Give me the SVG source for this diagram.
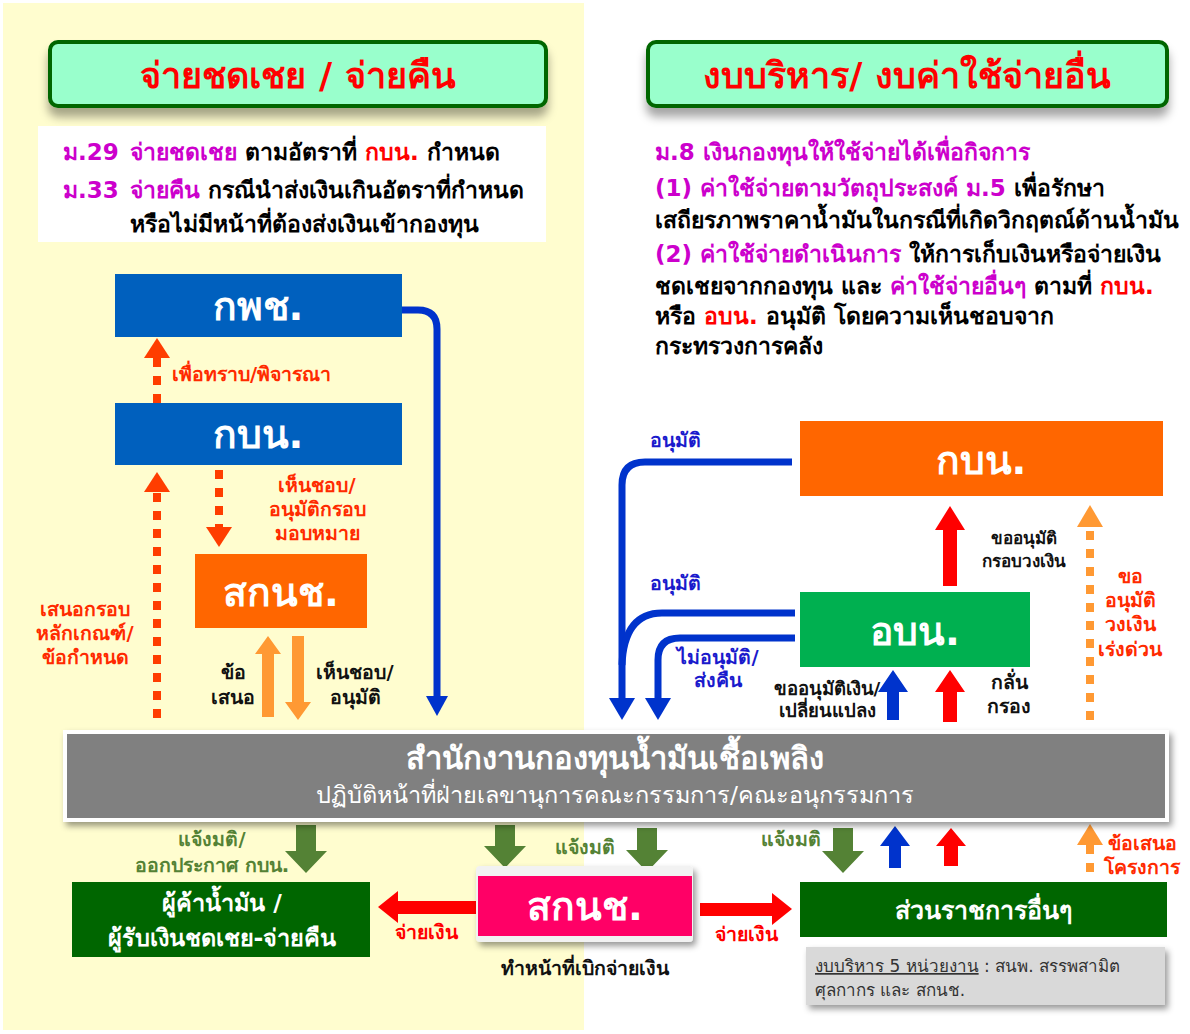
<svg xmlns="http://www.w3.org/2000/svg" width="1190" height="1034" viewBox="0 0 1190 1034">
<defs>
<style>
text{font-family:Tahoma,"DejaVu Sans","Noto Sans",sans-serif;font-weight:bold}
.t32{font-size:36px;fill:#FF0000;text-anchor:middle}
.p{font-size:23px;fill:#000}
.mg{fill:#CC00CC}
.rd{fill:#FF0000}
.box{font-size:39px;fill:#fff;text-anchor:middle}
.lbl{font-size:19.5px;text-anchor:middle}
.rlab{fill:#FF2A00}
.blab{fill:#1A1ACC}
.klab{fill:#111}
.glab{fill:#548235}
.bl{fill:none;stroke:#0033CC;stroke-width:7}
.dr{fill:none;stroke:#FF3D00;stroke-width:8;stroke-dasharray:9 9}
.do{fill:none;stroke:#FF9933;stroke-width:8;stroke-dasharray:9 9}
</style>
<filter id="sh" x="-10%" y="-30%" width="120%" height="180%"><feDropShadow dx="0" dy="9" stdDeviation="5" flood-color="#000" flood-opacity="0.35"/></filter>
<filter id="sh2" x="-10%" y="-20%" width="120%" height="160%"><feDropShadow dx="3" dy="4" stdDeviation="3" flood-color="#000" flood-opacity="0.4"/></filter>
</defs>
<rect width="1190" height="1034" fill="#fff"/>
<rect x="3" y="3" width="581" height="1027" fill="#FFFDCF"/>

<g id="title-left">
<rect x="50" y="42" width="496" height="64" rx="8" fill="#99FFCC" stroke="#006600" stroke-width="4" filter="url(#sh)"/>
<text class="t32" x="298" y="88">จ่ายชดเชย / จ่ายคืน</text>
</g>
<g id="text-left">
<rect x="38" y="126" width="508" height="116" fill="#fff"/>
<text class="p" x="63" y="160"><tspan class="mg">ม.29</tspan><tspan class="mg" x="130">จ่ายชดเชย</tspan> ตามอัตราที่ <tspan class="rd">กบน.</tspan> กำหนด</text>
<text class="p" x="63" y="198"><tspan class="mg">ม.33</tspan><tspan class="mg" x="130">จ่ายคืน</tspan> กรณีนำส่งเงินเกินอัตราที่กำหนด</text>
<text class="p" x="130" y="232">หรือไม่มีหน้าที่ต้องส่งเงินเข้ากองทุน</text>
</g>

<g id="title-right">
<rect x="648" y="42" width="519" height="64" rx="8" fill="#99FFCC" stroke="#006600" stroke-width="4" filter="url(#sh)"/>
<text class="t32" x="907" y="88">งบบริหาร/ งบค่าใช้จ่ายอื่น</text>
</g>
<g id="text-right">
<text class="p mg" x="655" y="160">ม.8 เงินกองทุนให้ใช้จ่ายได้เพื่อกิจการ</text>
<text class="p" x="655" y="196"><tspan class="mg">(1) ค่าใช้จ่ายตามวัตถุประสงค์ ม.5</tspan> เพื่อรักษา</text>
<text class="p" x="655" y="228">เสถียรภาพราคาน้ำมันในกรณีที่เกิดวิกฤตณ์ด้านน้ำมัน</text>
<text class="p" x="655" y="262"><tspan class="mg">(2) ค่าใช้จ่ายดำเนินการ</tspan> ให้การเก็บเงินหรือจ่ายเงิน</text>
<text class="p" x="655" y="294">ชดเชยจากกองทุน และ <tspan class="mg">ค่าใช้จ่ายอื่นๆ</tspan> ตามที่ <tspan class="rd">กบน.</tspan></text>
<text class="p" x="655" y="324">หรือ <tspan class="rd">อบน.</tspan> อนุมัติ โดยความเห็นชอบจาก</text>
<text class="p" x="655" y="354">กระทรวงการคลัง</text>
</g>

<g id="connectors">
<path class="bl" d="M402,310 H418 Q437,310 437,329 V698"/>
<polygon points="426,696 448,696 437,716" fill="#0033CC"/>
<path class="dr" d="M157,403 V358"/>
<polygon points="144,358 170,358 157,338" fill="#FF3D00"/>
<path class="dr" d="M157,718 V492"/>
<polygon points="144,492 170,492 157,472" fill="#FF3D00"/>
<path class="dr" d="M219,470 V527"/>
<polygon points="206,527 232,527 219,547" fill="#FF3D00"/>
<polygon points="268,636 281,654 274,654 274,717 262,717 262,654 255,654" fill="#FF9933"/>
<polygon points="298,720 311,702 304,702 304,636 292,636 292,702 285,702" fill="#FF9933"/>
<path class="bl" d="M792,462 H645 Q622,462 622,485 V700"/>
<polygon points="609,698 635,698 622,720" fill="#0033CC"/>
<path class="bl" d="M795,613 H662 Q624,613 622,665"/>
<path class="bl" d="M795,638 H680 Q658,638 658,660 V700"/>
<polygon points="645,698 671,698 658,720" fill="#0033CC"/>
<polygon points="950,506 965,530 957,530 957,586 943,586 943,530 935,530" fill="#FF0000"/>
<path class="do" d="M1090,720 V527"/>
<polygon points="1077,527 1103,527 1090,505" fill="#FF9933"/>
<polygon points="893,670 908,692 899,692 899,720 887,720 887,692 878,692" fill="#0033CC"/>
<polygon points="950,670 965,692 957,692 957,722 943,722 943,692 935,692" fill="#FF0000"/>
<polygon points="306,873 327,851 316,851 316,825 296,825 296,851 285,851" fill="#548235"/>
<polygon points="505,868 526,846 515,846 515,825 495,825 495,846 484,846" fill="#548235"/>
<polygon points="647,872 668,850 657,850 657,828 637,828 637,850 626,850" fill="#548235"/>
<polygon points="843,873 864,851 853,851 853,828 833,828 833,851 822,851" fill="#548235"/>
<polygon points="895,826 910,846 901,846 901,868 889,868 889,846 880,846" fill="#0033CC"/>
<polygon points="951,828 966,846 958,846 958,866 944,866 944,846 936,846" fill="#FF0000"/>
<path class="do" d="M1090,872 V845"/>
<polygon points="1077,845 1103,845 1090,824" fill="#FF9933"/>
<polygon points="378,907 398,891 398,901 476,901 476,914 398,914 398,923" fill="#FF0000"/>
<polygon points="792,909 772,893 772,903 700,903 700,916 772,916 772,925" fill="#FF0000"/>
</g>

<g id="labels">
<text class="lbl rlab" x="172" y="381" style="text-anchor:start">เพื่อทราบ/พิจารณา</text>
<text class="lbl rlab" x="85" y="616">เสนอกรอบ</text>
<text class="lbl rlab" x="85" y="640">หลักเกณฑ์/</text>
<text class="lbl rlab" x="85" y="664">ข้อกำหนด</text>
<text class="lbl rlab" x="317" y="492">เห็นชอบ/</text>
<text class="lbl rlab" x="317" y="516">อนุมัติกรอบ</text>
<text class="lbl rlab" x="317" y="540">มอบหมาย</text>
<text class="lbl klab" x="233" y="679">ข้อ</text>
<text class="lbl klab" x="233" y="704">เสนอ</text>
<text class="lbl klab" x="355" y="679">เห็นชอบ/</text>
<text class="lbl klab" x="355" y="704">อนุมัติ</text>
<text class="lbl blab" x="675" y="447">อนุมัติ</text>
<text class="lbl blab" x="675" y="590">อนุมัติ</text>
<text class="lbl blab" x="718" y="664">ไม่อนุมัติ/</text>
<text class="lbl blab" x="718" y="687">ส่งคืน</text>
<text class="lbl klab" x="1024" y="544" style="font-size:17px">ขออนุมัติ</text>
<text class="lbl klab" x="1024" y="567" style="font-size:17px">กรอบวงเงิน</text>
<text class="lbl rlab" x="1130" y="583">ขอ</text>
<text class="lbl rlab" x="1130" y="607">อนุมัติ</text>
<text class="lbl rlab" x="1130" y="631">วงเงิน</text>
<text class="lbl rlab" x="1130" y="656">เร่งด่วน</text>
<text class="lbl klab" x="827" y="695" style="font-size:18.5px">ขออนุมัติเงิน/</text>
<text class="lbl klab" x="827" y="717" style="font-size:18.5px">เปลี่ยนแปลง</text>
<text class="lbl klab" x="1009" y="689">กลั่น</text>
<text class="lbl klab" x="1009" y="713">กรอง</text>
<text class="lbl glab" x="212" y="846">แจ้งมติ/</text>
<text class="lbl glab" x="212" y="872">ออกประกาศ กบน.</text>
<text class="lbl glab" x="585" y="854">แจ้งมติ</text>
<text class="lbl glab" x="791" y="846">แจ้งมติ</text>
<text class="lbl rd" x="426" y="939">จ่ายเงิน</text>
<text class="lbl rd" x="746" y="941">จ่ายเงิน</text>
<text class="lbl klab" x="585" y="975">ทำหน้าที่เบิกจ่ายเงิน</text>
<text class="lbl rlab" x="1142" y="850">ข้อเสนอ</text>
<text class="lbl rlab" x="1142" y="874">โครงการ</text>
</g>

<g id="n-kpc">
<rect x="115" y="274" width="287" height="63" fill="#0060BE"/>
<text class="box" x="258" y="320">กพช.</text>
</g>
<g id="n-kbn-left">
<rect x="115" y="403" width="287" height="62" fill="#0060BE"/>
<text class="box" x="258" y="448">กบน.</text>
</g>
<g id="n-sknch-left">
<rect x="195" y="554" width="172" height="74" fill="#FF6600"/>
<text class="box" x="281" y="606">สกนช.</text>
</g>
<g id="n-kbn-right">
<rect x="800" y="421" width="363" height="75" fill="#FF6600"/>
<text class="box" x="981" y="474">กบน.</text>
</g>
<g id="n-obn">
<rect x="800" y="592" width="230" height="75" fill="#00B050"/>
<text class="box" x="915" y="645">อบน.</text>
</g>
<g id="n-office">
<rect x="65" y="732" width="1102" height="88" fill="#808080" stroke="#fff" stroke-width="4" filter="url(#sh2)"/>
<text x="615" y="769" style="font-size:31px;fill:#fff;text-anchor:middle">สำนักงานกองทุนน้ำมันเชื้อเพลิง</text>
<text x="615" y="803" style="font-size:23.5px;fill:#fff;text-anchor:middle;font-weight:normal">ปฏิบัติหน้าที่ฝ่ายเลขานุการคณะกรรมการ/คณะอนุกรรมการ</text>
</g>
<g id="n-traders">
<rect x="72" y="882" width="298" height="75" fill="#006600"/>
<text x="222" y="911" style="font-size:23.5px;fill:#fff;text-anchor:middle">ผู้ค้าน้ำมัน /</text>
<text x="222" y="946" style="font-size:23.5px;fill:#fff;text-anchor:middle">ผู้รับเงินชดเชย-จ่ายคืน</text>
</g>
<g id="n-sknch-pay">
<rect x="476" y="866" width="217" height="76" rx="4" fill="#F2F2F2" filter="url(#sh2)"/>
<rect x="478" y="876" width="214" height="60" fill="#FF0066"/>
<text class="box" x="585" y="920">สกนช.</text>
</g>
<g id="n-gov">
<rect x="800" y="882" width="367" height="55" fill="#006600"/>
<text x="983" y="919" style="font-size:25px;fill:#fff;text-anchor:middle">ส่วนราชการอื่นๆ</text>
</g>
<g id="n-note">
<rect x="806" y="947" width="359" height="58" fill="#D9D9D9" filter="url(#sh2)"/>
<text x="815" y="972" style="font-size:17px;fill:#333;font-weight:normal"><tspan text-decoration="underline">งบบริหาร 5 หน่วยงาน</tspan> :  สนพ. สรรพสามิต</text>
<text x="815" y="996" style="font-size:17px;fill:#333;font-weight:normal">ศุลกากร และ สกนช.</text>
</g>
</svg>
